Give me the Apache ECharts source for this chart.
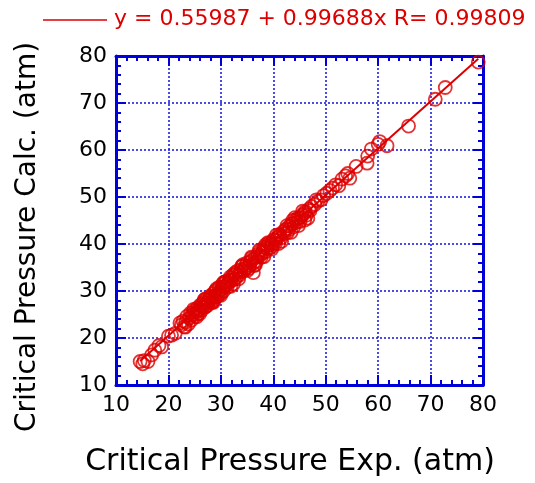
<!DOCTYPE html>
<html>
<head>
<meta charset="utf-8">
<script src="https://cdn.jsdelivr.net/npm/echarts@6/dist/echarts.min.js"></script>
<style>html,body{margin:0;padding:0;background:#fff}#c{width:535px;height:483px}</style>
</head>
<body>
<div id="c"></div>
<script>
// Experimental vs calculated critical pressure (atm)
var xExp = [
14.6,15.1,15.4,16.1,16.8,17.4,18.2,18.7,20.0,20.6,21.3,22.5,22.8,23.0,23.3,23.5,23.8,24.0,24.2,24.4,
24.7,24.9,25.1,25.3,25.5,25.7,25.9,26.1,26.3,26.5,26.7,26.9,27.1,27.3,27.5,27.7,27.9,28.1,28.3,28.5,
28.7,28.9,29.1,29.3,29.5,29.7,29.9,30.1,30.3,30.5,30.8,31.0,31.2,31.5,31.8,32.0,32.3,32.6,32.9,33.2,
33.5,33.8,34.1,34.4,34.7,35.0,35.3,35.6,35.9,36.2,36.2,36.5,36.8,37.1,37.4,37.7,38.0,38.3,38.6,38.9,
39.2,39.5,39.8,40.1,40.4,40.8,41.1,41.5,41.9,42.3,42.7,43.1,43.5,43.9,44.3,44.7,45.1,45.5,45.9,46.3,
46.8,47.3,47.9,48.5,49.1,49.6,50.2,50.8,51.3,51.9,52.5,53.1,53.8,54.2,54.6,55.8,57.9,58.0,58.7,60.0,
60.3,61.7,65.8,70.9,72.8,79.1,
24.5,25.6,26.4,27.2,28.0,28.8,29.6,30.4,31.3,32.1,33.0,33.7,34.6,35.5,36.0,37.0,37.9,38.8,39.6,40.5,
41.3,42.1,43.0,43.8,44.5,45.3,46.1,47.0,27.6,29.0,31.6,34.9,37.5,39.9,42.5,44.9,
23.2,24.8,26.0,27.0,28.4,29.2,30.0,30.9,31.9,32.7,33.4,34.2,35.1,35.8,36.6,37.3,38.2,39.0,39.7,40.6,
41.6,42.6,43.4,44.1,44.8,45.6,46.6,48.2,22.2,25.4,26.8,28.6,30.6,32.4,34.0,36.4,38.5,41.0,43.7,46.0
];
var yCalc = [
15.0,14.5,15.2,15.0,16.4,17.4,18.4,18.1,20.4,20.6,21.0,22.8,23.6,22.4,23.4,24.6,23.0,24.2,25.3,23.8,
24.9,25.8,24.6,25.5,26.4,25.2,26.0,27.0,25.9,26.6,27.6,26.5,27.3,28.2,27.0,28.0,28.9,27.6,28.5,29.4,
28.1,29.0,30.2,28.8,29.7,30.8,29.4,30.4,31.5,30.0,31.0,32.0,30.8,31.9,33.0,32.2,33.4,32.5,33.6,34.3,
33.4,34.5,35.3,34.3,35.4,36.0,34.8,36.2,37.0,33.9,35.9,37.1,36.3,37.8,38.4,37.2,38.7,39.3,38.4,39.6,
40.2,39.2,40.5,41.0,40.1,41.4,42.0,41.3,42.6,43.0,42.4,43.8,44.3,43.6,45.2,45.5,44.8,46.2,46.5,46.1,
47.4,48.0,48.4,49.1,49.4,50.3,50.8,51.4,51.9,52.6,52.4,53.8,54.5,55.0,54.0,56.5,57.2,58.7,60.2,61.2,
61.8,60.9,65.1,70.8,73.3,78.7,
25.0,25.9,27.2,26.7,28.6,29.8,29.2,30.9,31.5,32.8,32.9,34.0,34.8,35.4,36.6,37.3,38.1,39.1,40.0,40.8,
41.8,42.2,43.1,44.4,44.6,45.8,46.9,47.1,27.5,28.6,32.3,35.0,37.6,39.8,43.2,45.5,
22.3,26.1,25.2,28.3,27.6,30.5,29.1,32.0,31.0,33.9,32.6,35.6,34.4,37.2,35.6,38.7,37.3,40.3,38.9,41.9,
40.6,43.9,42.5,45.6,43.9,47.0,45.5,49.4,23.2,24.5,28.1,27.6,31.9,31.5,35.3,35.4,39.8,40.1,45.0,45.1
];
// Fitted line y = 0.55987 + 0.99688x, drawn between its end points
var fitX = [14.6, 79.1];
var fitY = [15.11, 79.41];
var axisTicks = [10, 20, 30, 40, 50, 60, 70, 80];
var fitLabel = 'y = 0.55987 + 0.99688x R= 0.99809';
var xTitle = 'Critical Pressure Exp. (atm)';
var yTitle = 'Critical Pressure Calc. (atm)';

var blue = '#0000d8';
var red = '#dd0000';
var font = 'DejaVu Sans';

var pts = xExp.map(function (x, i) { return [x, yCalc[i]]; });
var fit = fitX.map(function (x, i) { return [x, fitY[i]]; });

function axis(pos, show) {
  return {
    type: 'value', position: pos,
    min: axisTicks[0], max: axisTicks[axisTicks.length - 1], interval: 10,
    axisLine: { show: true, onZero: false, lineStyle: { color: blue, width: 3 } },
    axisTick: { show: true, inside: true, length: 10, lineStyle: { color: blue, width: 2 } },
    minorTick: { show: true, splitNumber: 5, length: 5, lineStyle: { color: blue, width: 2 } },
    axisLabel: { show: show, color: '#000', fontFamily: font, fontSize: 22, margin: 9 },
    splitLine: { show: show, lineStyle: { color: '#2020e0', width: 1.6, type: [2, 2] } }
  };
}

var chart = echarts.init(document.getElementById('c'), null, { renderer: 'canvas' });
chart.setOption({
  animation: false,
  grid: { left: 116, right: 52, top: 56, bottom: 98, containLabel: false },
  xAxis: [axis('bottom', true), axis('top', false)],
  yAxis: [axis('left', true), axis('right', false)],
  graphic: [
    { type: 'line', shape: { x1: 43, y1: 20, x2: 107, y2: 20 }, style: { stroke: red, lineWidth: 1.5 } },
    { type: 'text', x: 114, y: 19, style: { text: fitLabel, fill: red, font: '22px "DejaVu Sans"', textVerticalAlign: 'middle' } },
    { type: 'text', x: 290, y: 462, style: { text: xTitle, fill: '#000', font: '30px "DejaVu Sans"', textAlign: 'center', textVerticalAlign: 'middle' } },
    { type: 'text', x: 28, y: 237, rotation: Math.PI / 2, style: { text: yTitle, fill: '#000', font: '28px "DejaVu Sans"', textAlign: 'center', textVerticalAlign: 'middle' } }
  ],
  series: [
    {
      type: 'line', data: fit, xAxisIndex: 0, yAxisIndex: 0, showSymbol: false,
      lineStyle: { color: red, width: 2 }, z: 3
    },
    {
      type: 'scatter', data: pts, xAxisIndex: 0, yAxisIndex: 0, symbol: 'circle', symbolSize: 13,
      itemStyle: { color: 'rgba(0,0,0,0)', borderColor: red, borderWidth: 1.8 }, z: 4
    }
  ]
});
</script>
</body>
</html>
